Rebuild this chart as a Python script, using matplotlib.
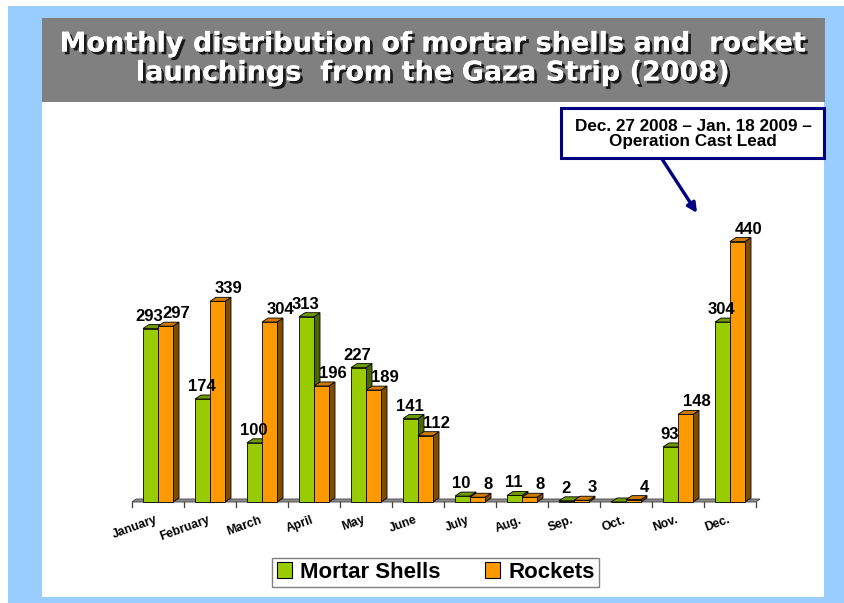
import matplotlib
matplotlib.use("Agg")
import matplotlib.pyplot as plt
from matplotlib.patches import Rectangle, Polygon, Patch
import matplotlib.patheffects as pe

# ---------------- data ----------------
months = ["January", "February", "March", "April", "May", "June",
          "July", "Aug.", "Sep.", "Oct.", "Nov.", "Dec."]
mortar = [293, 174, 100, 313, 227, 141, 10, 11, 2, 0, 93, 304]
rockets = [297, 339, 304, 196, 189, 112, 8, 8, 3, 4, 148, 440]
series_names = ["Mortar Shells", "Rockets"]
title = "Monthly distribution of mortar shells and  rocket\nlaunchings  from the Gaza Strip (2008)"
callout = "Dec. 27 2008 \u2013 Jan. 18 2009 \u2013\nOperation Cast Lead"

# ---------------- figure ----------------
W, H = 845, 603
plt.rcParams['font.family'] = ['Liberation Sans', 'DejaVu Sans']
fig = plt.figure(figsize=(W / 100, H / 100), dpi=100)
fig.patch.set_facecolor('white')


def fx(x):
    return x / W


def fy(y):
    return 1 - y / H


def frect(x0, y0, x1, y1, **kw):
    r = Rectangle((fx(x0), fy(y1)), fx(x1) - fx(x0), fy(y0) - fy(y1),
                  transform=fig.transFigure, **kw)
    fig.patches.append(r)
    return r


# slide background
frect(8, 6, W, H, facecolor='#99CCFF', edgecolor='none', zorder=-3)
frect(42, 102, 824, 597, facecolor='white', edgecolor='none', zorder=-2)
frect(42, 18, 825, 102, facecolor='#808080', edgecolor='none', zorder=-2)

fig.text(fx(433), fy(59), title, ha='center', va='center', color='white',
         fontsize=19.5, fontweight='bold', family=['DejaVu Sans'],
         linespacing=1.15, zorder=5,
         path_effects=[pe.withSimplePatchShadow(offset=(2, -2),
                                                shadow_rgbFace='#1a1a1a', alpha=1.0),
                       pe.Normal()])

# ---------------- main axes ----------------
ax_left, ax_right, ax_base, ax_top = 132, 756, 502, 206
ax = fig.add_axes([fx(ax_left), fy(ax_base), fx(ax_right) - fx(ax_left),
                   fy(ax_top) - fy(ax_base)])
ax.set_zorder(1)
ax.set_xlim(-0.5, len(months) - 0.5)
ax.set_ylim(0, 500)
ax.axis('off')
ax.patch.set_alpha(0)

xpp = 1.0 / 52                       # data x units per pixel
ypp = 500.0 / (ax_base - ax_top)     # data y units per pixel
bw = 15 * xpp
ddx, ddy = 6 * xpp, 4 * ypp

# floor
fdx, fdy = 4 * xpp, 3 * ypp
floor = Polygon([(-0.5, 0), (len(months) - 0.5, 0),
                 (len(months) - 0.5 + fdx, fdy), (-0.5 + fdx, fdy)],
                closed=True, facecolor='#8c8c8c', edgecolor='#404040',
                lw=0.6, zorder=1, clip_on=False)
ax.add_patch(floor)
# ticks
for k in range(len(months) + 1):
    xk = -0.5 + k
    ax.plot([xk, xk], [0, -5 * ypp], color='#404040', lw=0.9,
            clip_on=False, zorder=1)

face_cols = [('#99CC00', '#4C6600', '#6E9900'),
             ('#FF9900', '#7F4C00', '#CC7A00')]


def bar3d(x0, h, cols, z):
    front, side, top = cols
    ax.add_patch(Polygon([(x0 + bw, 0), (x0 + bw + ddx, ddy),
                          (x0 + bw + ddx, h + ddy), (x0 + bw, h)],
                         closed=True, facecolor=side, edgecolor='black',
                         lw=0.6, zorder=z, clip_on=False))
    ax.add_patch(Polygon([(x0, h), (x0 + bw, h), (x0 + bw + ddx, h + ddy),
                          (x0 + ddx, h + ddy)],
                         closed=True, facecolor=top, edgecolor='black',
                         lw=0.6, zorder=z, clip_on=False))
    ax.add_patch(Rectangle((x0, 0), bw, h, facecolor=front,
                           edgecolor='black', lw=0.6, zorder=z, clip_on=False))


for i, (m, r) in enumerate(zip(mortar, rockets)):
    bar3d(i - bw, m, face_cols[0], 3 + i * 2)
    bar3d(i, r, face_cols[1], 4 + i * 2)
    if m > 0:
        ax.text(i - bw / 2 - 1 * xpp, m + ddy + 1 * ypp, str(m),
                ha='center', va='bottom', fontsize=12, fontweight='bold',
                zorder=40)
    if r > 0:
        ax.text(i + bw / 2 + 11 * xpp, r + ddy + 1 * ypp, str(r),
                ha='center', va='bottom', fontsize=12, fontweight='bold',
                zorder=40)

for i, lab in enumerate(months):
    ax.text(i - 3 * xpp, -12 * ypp, lab, ha='right', va='top', rotation=20,
            rotation_mode='anchor', fontsize=8.8, fontweight='bold',
            clip_on=False)

# ---------------- legend ----------------
handles = [Patch(facecolor=face_cols[0][0], edgecolor='black', lw=0.8),
           Patch(facecolor=face_cols[1][0], edgecolor='black', lw=0.8)]
leg = fig.legend(handles, series_names, loc='center',
                 bbox_to_anchor=(fx(435.5), fy(572.5)),
                 ncol=2, frameon=True, fancybox=False,
                 prop={'size': 16, 'weight': 'bold'},
                 handlelength=0.7, handleheight=0.7, handletextpad=0.35,
                 columnspacing=2.0, borderpad=0.2)
leg.get_frame().set_edgecolor('#606060')
leg.get_frame().set_linewidth(1.0)

# ---------------- callout ----------------
frect(561, 108, 824, 158, facecolor='white', edgecolor='#000080', lw=2.2,
      zorder=6)
fig.text(fx(693), fy(134), callout, ha='center', va='center',
         fontsize=12.3, fontweight='bold', linespacing=0.98, zorder=7)
ax.annotate('', xy=(fx(697), fy(213)), xycoords='figure fraction',
            xytext=(fx(662), fy(159)), textcoords='figure fraction',
            arrowprops=dict(arrowstyle='-|>', color='#000080', lw=2.4,
                            mutation_scale=14, shrinkA=0, shrinkB=0),
            zorder=6, annotation_clip=False)

fig.savefig('out.png', dpi=100)
